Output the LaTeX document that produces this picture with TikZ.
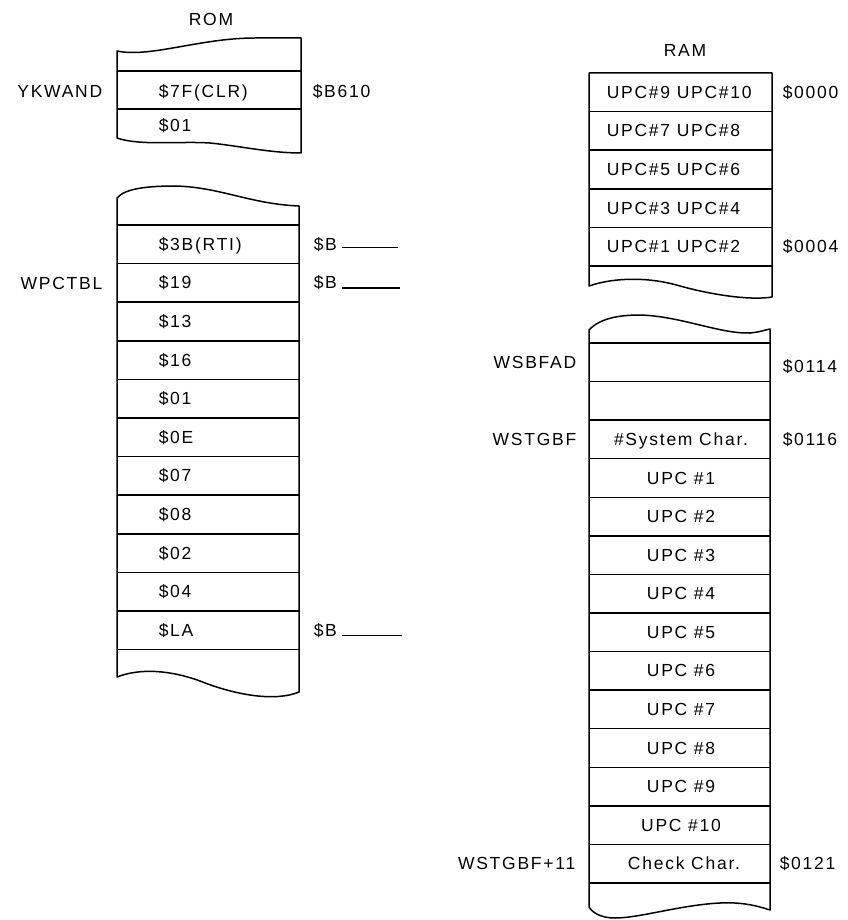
\documentclass[tikz,border=0pt]{standalone}
\usepackage{fontspec}
\setmainfont[LetterSpace=10]{Liberation Sans}
\begin{document}
\begin{tikzpicture}[x=1pt,y=-1pt,line width=1.5pt,line join=round,
  lbl/.style={inner sep=0pt,font=\fontsize{17.5}{20}\selectfont},
  cellw/.style={lbl,anchor=base west},
  cellc/.style={lbl,anchor=base},
  lefts/.style={lbl,anchor=base east},
  rights/.style={lbl,anchor=base west},
  rowline/.style={line width=1.5pt},
  tick/.style={line width=1.3pt}]
\useasboundingbox (0,0) rectangle (847,920);

% ---------------- ROM, first block
\node[cellc] (rom) at (211,26) {ROM};
\draw (117,51) .. controls (150,58) and (200,38) .. (255,38) -- (301,38)
  -- (301,153) .. controls (270,153) and (240,146) .. (210,143)
  .. controls (180,141) and (140,146) .. (117,138) -- cycle;
\draw[rowline] (117,71) -- (301,71);
\draw[rowline] (117,109) -- (301,109);
\node[lefts] (ykwand) at (103,98) {YKWAND};
\node[cellw] (clr) at (158,98) {\$7F(CLR)};
\node[rights] (b610) at (312,98) {\$B610};
\node[cellw] (r01a) at (158,132) {\$01};

% ---------------- ROM, second block
\draw (117,198) .. controls (125,188) and (150,186) .. (175,186)
  .. controls (220,187) and (250,204) .. (299,206)
  -- (299,692) .. controls (275,702) and (235,695) .. (200,681)
  .. controls (170,670) and (140,668) .. (117,677) -- cycle;
\foreach \i in {0,...,11}{
  \draw[rowline] (117,{225+38.6*\i}) -- (299,{225+38.6*\i});
}
\foreach \t [count=\i from 0] in {\$3B(RTI),\$19,\$13,\$16,\$01,\$0E,\$07,\$08,\$02,\$04,\$LA}{
  \node[cellw] (rom\i) at (158,{250.3+38.6*\i}) {\t};
}
\node[lefts] (wpctbl) at (103,289) {WPCTBL};
\node[rights] (ba) at (313,250.3) {\$B};
\node[rights] (bb) at (313,288.9) {\$B};
\node[rights] (bc) at (313,636.3) {\$B};
\coordinate (ea) at (398,250);
\coordinate (eb) at (400,288);
\coordinate (ec) at (402,635);
\draw[tick] ([xshift=4pt,yshift=3pt]ba.base east) coordinate (sa) -- (sa -| ea);
\draw[tick] ([xshift=4pt,yshift=1pt]bb.base east) coordinate (sb) -- (sb -| eb);
\draw[tick] ([xshift=4pt,yshift=1pt]bc.base east) coordinate (sc) -- (sc -| ec);

% ---------------- RAM, first block
\node[cellc] (ram) at (685,57) {RAM};
\draw (589,73) -- (772,73) -- (772,297)
  .. controls (755,300) and (720,297) .. (680,286)
  .. controls (650,277) and (615,277) .. (589,286) -- cycle;
\foreach \i in {1,...,5}{
  \draw[rowline] (589,{73+38.6*\i}) -- (772,{73+38.6*\i});
}
\foreach \t [count=\i from 0] in {UPC\#9 UPC\#10,UPC\#7 UPC\#8,UPC\#5 UPC\#6,UPC\#3 UPC\#4,UPC\#1 UPC\#2}{
  \node[cellw] (ra\i) at (606,{98.3+38.6*\i}) {\t};
}
\node[rights] (a0000) at (782,98.3) {\$0000};
\node[rights] (a0004) at (782,252.7) {\$0004};

% ---------------- RAM, second block
\draw (589,330) .. controls (600,318) and (620,315) .. (640,315)
  .. controls (680,316) and (720,334) .. (750,333)
  .. controls (760,332) and (765,330) .. (770,329)
  -- (770,910) .. controls (755,905) and (740,902) .. (720,903)
  .. controls (680,905) and (640,918) .. (615,918)
  .. controls (600,918) and (592,912) .. (589,907) -- cycle;
\foreach \i in {0,...,14}{
  \draw[rowline] (589,{343+38.57*\i}) -- (770,{343+38.57*\i});
}
\node[cellc] (sys) at (681,{368.3+38.57*2}) {\#System Char.};
\foreach \n in {1,...,10}{
  \node[cellc] (upc\n) at (681,{368.3+38.57*(\n+2)}) {UPC \#\n};
}
\node[cellc] (chk) at (684,{368.3+38.57*13}) {Check Char.};
\node[lefts] (wsbfad) at (577,368.3) {WSBFAD};
\node[lefts] (wstgbf) at (577,{368.3+38.57*2}) {WSTGBF};
\node[lefts] (wstgbf11) at (576,{368.3+38.57*13}) {WSTGBF+11};
\node[rights] (a0114) at (782,372.3) {\$0114};
\node[rights] (a0116) at (782,{368.3+38.57*2}) {\$0116};
\node[rights] (a0121) at (779,{368.3+38.57*13}) {\$0121};
\end{tikzpicture}
\end{document}
